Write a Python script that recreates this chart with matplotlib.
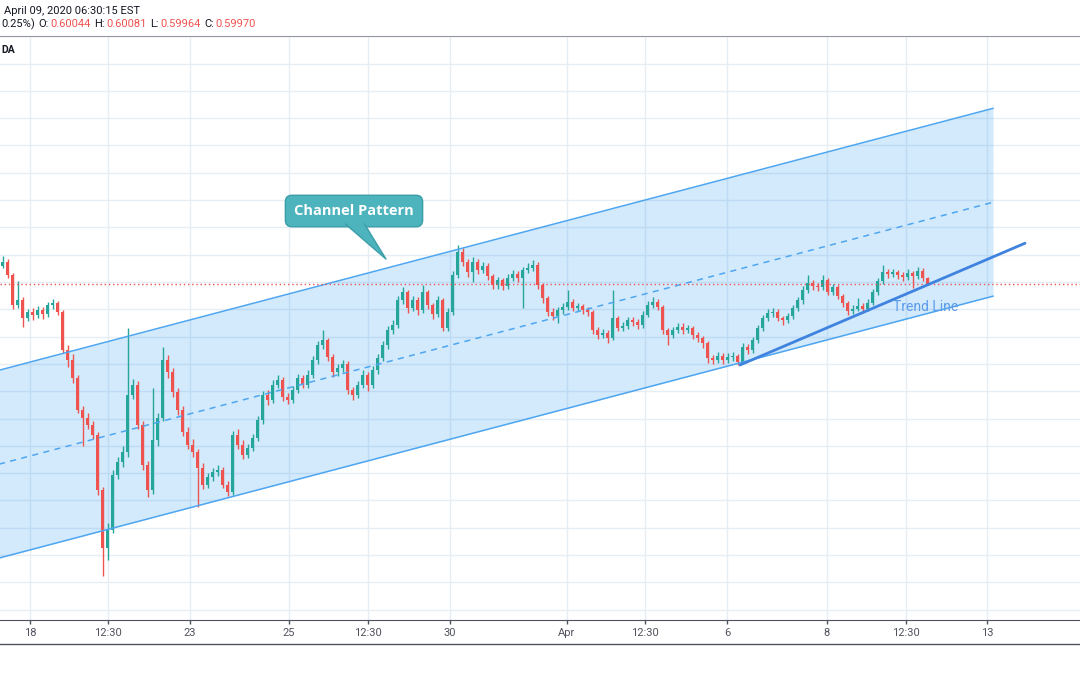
import numpy as np
import matplotlib
matplotlib.use('Agg')
import matplotlib.pyplot as plt
from matplotlib.lines import Line2D
from matplotlib.patches import Polygon

plt.rcParams['font.family'] = ['Roboto', 'DejaVu Sans']

# candle data (hourly bars)
first_open = 0.6030
closes = [
    0.6037, 0.6013, 0.5958, 0.5967, 0.5934, 0.5945, 0.5940, 0.5949, 0.5941, 0.5958,
    0.5962, 0.5945, 0.5876, 0.5857, 0.5824, 0.5766, 0.5751, 0.5738, 0.5720, 0.5619,
    0.5513, 0.5546, 0.5647, 0.5671, 0.5689, 0.5793, 0.5812, 0.5738, 0.5665, 0.5619,
    0.5711, 0.5751, 0.5857, 0.5835, 0.5799, 0.5766, 0.5726, 0.5702, 0.5689, 0.5660,
    0.5629, 0.5642, 0.5652, 0.5656, 0.5629, 0.5616, 0.5720, 0.5702, 0.5684, 0.5696,
    0.5715, 0.5747, 0.5793, 0.5784, 0.5812, 0.5821, 0.5790, 0.5784, 0.5802, 0.5824,
    0.5812, 0.5830, 0.5857, 0.5885, 0.5894, 0.5863, 0.5835, 0.5843, 0.5850, 0.5802,
    0.5793, 0.5812, 0.5830, 0.5812, 0.5839, 0.5861, 0.5885, 0.5912, 0.5921, 0.5967,
    0.5982, 0.5952, 0.5967, 0.5949, 0.5982, 0.5958, 0.5941, 0.5967, 0.5916, 0.5945,
    0.6013, 0.6055, 0.6037, 0.6018, 0.6037, 0.6022, 0.6029, 0.6011, 0.5995, 0.6004,
    0.5993, 0.6007, 0.6015, 0.6007, 0.6022, 0.6026, 0.6031, 0.5995, 0.5971, 0.5945,
    0.5938, 0.5949, 0.5954, 0.5963, 0.5952, 0.5956, 0.5949, 0.5945, 0.5912, 0.5903,
    0.5907, 0.5898, 0.5934, 0.5916, 0.5919, 0.5930, 0.5927, 0.5921, 0.5940, 0.5958,
    0.5963, 0.5954, 0.5912, 0.5903, 0.5912, 0.5918, 0.5912, 0.5916, 0.5903, 0.5898,
    0.5888, 0.5861, 0.5857, 0.5865, 0.5857, 0.5863, 0.5865, 0.5854, 0.5881, 0.5876,
    0.5894, 0.5916, 0.5934, 0.5943, 0.5945, 0.5934, 0.5930, 0.5938, 0.5952, 0.5967,
    0.5985, 0.5998, 0.5993, 0.5991, 0.6004, 0.5982, 0.5991, 0.5974, 0.5962, 0.5947,
    0.5951, 0.5956, 0.5951, 0.5962, 0.5982, 0.6002, 0.6018, 0.6015, 0.6018, 0.6013,
    0.6009, 0.6016, 0.6011, 0.6020, 0.6007, 0.5997,
]
highs = [
    0.6048, 0.6042, 0.6016, 0.6002, 0.5972, 0.5950, 0.5952, 0.5956, 0.5955, 0.5964,
    0.5968, 0.5966, 0.5948, 0.5885, 0.5868, 0.5830, 0.5772, 0.5760, 0.5745, 0.5726,
    0.5625, 0.5558, 0.5655, 0.5680, 0.5700, 0.5916, 0.5822, 0.5818, 0.5745, 0.5672,
    0.5806, 0.5760, 0.5881, 0.5866, 0.5842, 0.5805, 0.5772, 0.5735, 0.5712, 0.5695,
    0.5668, 0.5650, 0.5660, 0.5664, 0.5662, 0.5636, 0.5728, 0.5730, 0.5710, 0.5704,
    0.5722, 0.5755, 0.5800, 0.5802, 0.5820, 0.5830, 0.5826, 0.5796, 0.5810, 0.5832,
    0.5830, 0.5838, 0.5864, 0.5892, 0.5912, 0.5898, 0.5868, 0.5850, 0.5858, 0.5855,
    0.5808, 0.5818, 0.5838, 0.5835, 0.5846, 0.5868, 0.5892, 0.5920, 0.5930, 0.5975,
    0.5990, 0.5986, 0.5974, 0.5972, 0.5995, 0.5986, 0.5962, 0.5974, 0.5970, 0.5952,
    0.6020, 0.6068, 0.6062, 0.6042, 0.6045, 0.6042, 0.6036, 0.6034, 0.6015, 0.6010,
    0.6008, 0.6014, 0.6022, 0.6020, 0.6028, 0.6034, 0.6040, 0.6036, 0.5998, 0.5975,
    0.5952, 0.5955, 0.5962, 0.5985, 0.5968, 0.5962, 0.5960, 0.5955, 0.5948, 0.5918,
    0.5914, 0.5912, 0.5985, 0.5938, 0.5926, 0.5936, 0.5936, 0.5932, 0.5946, 0.5965,
    0.5972, 0.5968, 0.5958, 0.5916, 0.5918, 0.5925, 0.5924, 0.5922, 0.5920, 0.5908,
    0.5902, 0.5892, 0.5866, 0.5872, 0.5870, 0.5870, 0.5872, 0.5868, 0.5888, 0.5886,
    0.5900, 0.5922, 0.5940, 0.5950, 0.5952, 0.5950, 0.5938, 0.5944, 0.5958, 0.5972,
    0.5992, 0.6013, 0.6004, 0.5998, 0.6013, 0.6008, 0.5996, 0.5995, 0.5978, 0.5966,
    0.5958, 0.5970, 0.5962, 0.5968, 0.5988, 0.6008, 0.6031, 0.6024, 0.6024, 0.6022,
    0.6018, 0.6024, 0.6020, 0.6028, 0.6026, 0.6010,
]
lows = [
    0.6025, 0.6008, 0.5950, 0.5952, 0.5918, 0.5928, 0.5930, 0.5934, 0.5932, 0.5936,
    0.5950, 0.5940, 0.5870, 0.5845, 0.5815, 0.5760, 0.5700, 0.5730, 0.5712, 0.5610,
    0.5462, 0.5490, 0.5540, 0.5640, 0.5662, 0.5680, 0.5785, 0.5730, 0.5655, 0.5607,
    0.5612, 0.5700, 0.5745, 0.5825, 0.5790, 0.5756, 0.5718, 0.5695, 0.5680, 0.5588,
    0.5620, 0.5622, 0.5636, 0.5645, 0.5622, 0.5608, 0.5610, 0.5695, 0.5676, 0.5678,
    0.5690, 0.5708, 0.5740, 0.5775, 0.5778, 0.5805, 0.5782, 0.5776, 0.5778, 0.5796,
    0.5805, 0.5806, 0.5824, 0.5850, 0.5878, 0.5855, 0.5826, 0.5828, 0.5836, 0.5795,
    0.5784, 0.5788, 0.5806, 0.5800, 0.5806, 0.5832, 0.5855, 0.5878, 0.5905, 0.5915,
    0.5960, 0.5944, 0.5946, 0.5940, 0.5944, 0.5950, 0.5932, 0.5935, 0.5910, 0.5910,
    0.5940, 0.6008, 0.6030, 0.6010, 0.6000, 0.6015, 0.6016, 0.6004, 0.5988, 0.5988,
    0.5986, 0.5988, 0.6002, 0.6000, 0.5953, 0.6016, 0.6020, 0.5988, 0.5962, 0.5938,
    0.5930, 0.5925, 0.5942, 0.5948, 0.5946, 0.5946, 0.5942, 0.5938, 0.5905, 0.5895,
    0.5898, 0.5888, 0.5894, 0.5910, 0.5910, 0.5914, 0.5920, 0.5914, 0.5916, 0.5935,
    0.5952, 0.5948, 0.5905, 0.5884, 0.5898, 0.5906, 0.5905, 0.5906, 0.5896, 0.5890,
    0.5880, 0.5852, 0.5850, 0.5852, 0.5850, 0.5852, 0.5856, 0.5848, 0.5850, 0.5868,
    0.5870, 0.5888, 0.5910, 0.5928, 0.5936, 0.5928, 0.5922, 0.5924, 0.5932, 0.5946,
    0.5960, 0.5980, 0.5986, 0.5984, 0.5986, 0.5976, 0.5976, 0.5968, 0.5955, 0.5940,
    0.5942, 0.5946, 0.5944, 0.5946, 0.5958, 0.5976, 0.5996, 0.6008, 0.6010, 0.6006,
    0.6002, 0.6004, 0.5989, 0.6006, 0.6002, 0.5994,
]

tick_pos = [5.5, 21.1, 37.5, 57.3, 73.1, 89.5, 112.9, 128.5, 144.9, 164.9, 180.7, 196.9]
tick_labels = ['18', '12:30', '23', '25', '12:30', '30', 'Apr', '12:30', '6', '8', '12:30', '13']

last_price = 0.5997

# drawings: channel anchors (bar index, price) and trend line
chan_x = [-5, 198.1]
chan_upper = [0.5828, 0.6318]
chan_lower = [0.5484, 0.5974]
trend_x = [147.5, 204.5]
trend_y = [0.5848, 0.6071]

# header legend: (text, colour, gap after in px)
legend_parts = [('0.25%)', '#131722', 4), ('O:', '#131722', 1), ('0.60044', '#ef5350', 4),
                ('H:', '#131722', 1), ('0.60081', '#ef5350', 4), ('L:', '#131722', 1),
                ('0.59964', '#ef5350', 4), ('C:', '#131722', 1), ('0.59970', '#ef5350', 0)]

up_col = '#26a69a'
down_col = '#ef5350'

fig = plt.figure(figsize=(10.8, 6.75), dpi=100)
ax = fig.add_axes([0, 55 / 675, 1, 584 / 675])

n = len(closes)
x = np.arange(n)
c = np.array(closes)
o = np.array([first_open] + closes[:-1])
colors = np.where(c >= o, up_col, down_col)

# channel fill below candles
ax.fill_between(chan_x, chan_lower, chan_upper, color='#2196f3', alpha=0.2, lw=0, zorder=1)

ax.vlines(x, lows, highs, colors=colors, lw=1, zorder=3)
body_h = np.maximum(np.abs(c - o), 0.00007)
ax.bar(x, body_h, bottom=np.minimum(o, c), width=0.72, color=colors, lw=0, zorder=3)

mid = [(a + b) / 2 for a, b in zip(chan_upper, chan_lower)]
ax.plot(chan_x, chan_upper, color='#4ea6f0', lw=1.1, zorder=4)
ax.plot(chan_x, chan_lower, color='#4ea6f0', lw=1.1, zorder=4)
ax.plot(chan_x, mid, color='#4ea6f0', lw=1.1, ls=(0, (4, 3.5)), zorder=4)
ax.plot(trend_x, trend_y, color='#3f83df', lw=2, zorder=5, solid_capstyle='round')

ax.axhline(last_price, color='#ef5350', lw=1, ls=(0, (1, 2)), zorder=4)

ax.text(178.1, 0.5954, 'Trend Line', color='#5b9bea', fontsize=10, ha='left', va='center', zorder=6)

# callout
ax.text(70.3, 0.6130, 'Channel Pattern', ha='center', va='center', color='white',
        fontweight='bold', fontsize=10.5, family=['Open Sans', 'DejaVu Sans'], zorder=7,
        bbox=dict(boxstyle='round,pad=0.6,rounding_size=0.45', fc='#4db3bc', ec='#3a9ea8', lw=1))
tail_x = [68.6, 76.7, 72.4]
tail_y = [0.6106, 0.6042, 0.6106]
ax.add_patch(Polygon(list(zip(tail_x, tail_y)), closed=True, fc='#4db3bc', ec='none', zorder=8))
ax.plot(tail_x, tail_y, color='#3a9ea8', lw=1, zorder=8)

ax.set_xlim(-0.5, 215.5)
ax.set_ylim(0.53810, 0.64505)
ax.set_xticks(tick_pos)
ax.set_xticklabels(tick_labels)
ax.set_yticks(np.arange(0.540, 0.6451, 0.005))
ax.tick_params(axis='y', left=False, labelleft=False)
ax.tick_params(axis='x', direction='out', length=3, width=1, color='#50535e',
               labelsize=8, labelcolor='#50535e', pad=3)
ax.grid(True, color='#e6edf3', lw=1, zorder=0)
ax.set_axisbelow(True)
for side in ['left', 'right']:
    ax.spines[side].set_visible(False)
ax.spines['bottom'].set_color('#50535e')
ax.spines['top'].set_color('#9598a1')

fig.add_artist(Line2D([0, 1], [31 / 675, 31 / 675], transform=fig.transFigure, color='#50535e', lw=1))

# header
def fx(px):
    return px / 1080

def fy(py):
    return 1 - py / 675

fig.text(fx(4), fy(11), 'April 09, 2020 06:30:15 EST', fontsize=8, color='#131722', va='center')

renderer = fig.canvas.get_renderer()
cur = 1
for s, col, gap in legend_parts:
    t = fig.text(fx(cur), fy(24), s, fontsize=8, color=col, va='center')
    w = t.get_window_extent(renderer).width
    cur += w + gap

fig.text(fx(1), fy(50), 'DA', fontsize=7.5, color='#131722', va='center', fontweight='bold')

fig.savefig('out.png', dpi=100)
